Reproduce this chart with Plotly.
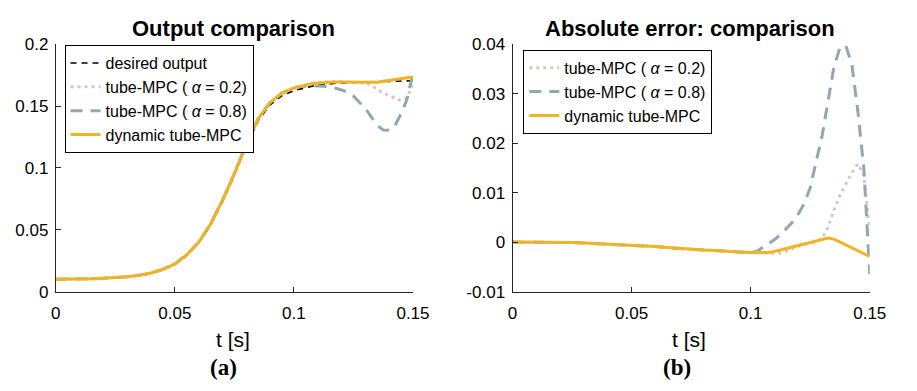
import plotly.graph_objects as go

# ---- data ----
t = [0, 0.005, 0.01, 0.015, 0.02, 0.025, 0.03, 0.035, 0.04, 0.045,
     0.05, 0.055, 0.06, 0.065, 0.07, 0.075, 0.08, 0.085, 0.09, 0.095,
     0.10, 0.1025, 0.105, 0.1075, 0.11, 0.1125, 0.115, 0.1175, 0.12, 0.1225,
     0.125, 0.1275, 0.13, 0.1325, 0.135, 0.1375, 0.14, 0.1425, 0.145, 0.1475, 0.15]

desired_output = [0.0100, 0.0100, 0.0101, 0.0103, 0.0106, 0.0110, 0.0117, 0.0128, 0.0146, 0.0175,
                  0.0218, 0.0290, 0.0390, 0.0535, 0.0725, 0.0940, 0.1175, 0.1380, 0.1510, 0.1585,
                  0.1625, 0.1638, 0.1650, 0.1660, 0.1668, 0.1675, 0.1680, 0.1684, 0.1687, 0.1689,
                  0.1691, 0.1693, 0.1695, 0.1697, 0.1698, 0.1700, 0.1701, 0.1702, 0.1703, 0.1704, 0.1705]

dyn_output = [0.0100, 0.0100, 0.0101, 0.0103, 0.0107, 0.0111, 0.0119, 0.0131, 0.0150, 0.0180,
              0.0224, 0.0298, 0.0399, 0.0546, 0.0738, 0.0954, 0.1191, 0.1397, 0.1529, 0.1605,
              0.1646, 0.1659, 0.1671, 0.1681, 0.1687, 0.1691, 0.1693, 0.1694, 0.1694, 0.1693,
              0.1693, 0.1692, 0.1691, 0.1689, 0.1692, 0.1700, 0.1707, 0.1713, 0.1720, 0.1727, 0.1734]

tube02_output = [0.0100, 0.0100, 0.0101, 0.0103, 0.0107, 0.0111, 0.0119, 0.0131, 0.0150, 0.0180,
                 0.0224, 0.0298, 0.0399, 0.0546, 0.0738, 0.0954, 0.1191, 0.1397, 0.1529, 0.1605,
                 0.1646, 0.1659, 0.1672, 0.1683, 0.1691, 0.1697, 0.1698, 0.1697, 0.1696, 0.1694,
                 0.1693, 0.1692, 0.1687, 0.1667, 0.1633, 0.1605, 0.1583, 0.1562, 0.1545, 0.1569, 0.1680]

tube08_output = [0.0100, 0.0100, 0.0101, 0.0103, 0.0107, 0.0111, 0.0119, 0.0131, 0.0150, 0.0180,
                 0.0224, 0.0298, 0.0399, 0.0546, 0.0738, 0.0954, 0.1191, 0.1397, 0.1529, 0.1605,
                 0.1646, 0.1657, 0.1661, 0.1663, 0.1663, 0.1660, 0.1653, 0.1644, 0.1630, 0.1611,
                 0.1581, 0.1533, 0.1480, 0.1412, 0.1343, 0.1307, 0.1304, 0.1344, 0.1438, 0.1554, 0.1770]

dyn_error = [0, 0, 0, 0, -0.0001, -0.0001, -0.0002, -0.0003, -0.0004, -0.0005,
             -0.0006, -0.0008, -0.0009, -0.0011, -0.0013, -0.0014, -0.0016, -0.0017, -0.0019, -0.0020,
             -0.0021, -0.0021, -0.0021, -0.0021, -0.0019, -0.0016, -0.0013, -0.0010, -0.0007, -0.0004,
             -0.0002, 0.0001, 0.0004, 0.0008, 0.0006, 0.0000, -0.0006, -0.0011, -0.0017, -0.0023, -0.0029]

tube02_error = [0, 0, 0, 0, -0.0001, -0.0001, -0.0002, -0.0003, -0.0004, -0.0005,
                -0.0006, -0.0008, -0.0009, -0.0011, -0.0013, -0.0014, -0.0016, -0.0017, -0.0019, -0.0020,
                -0.0021, -0.0021, -0.0022, -0.0023, -0.0023, -0.0022, -0.0018, -0.0013, -0.0009, -0.0005,
                -0.0002, 0.0001, 0.0008, 0.0030, 0.0065, 0.0095, 0.0118, 0.0140, 0.0158, 0.0135, 0.0025]

tube08_error = [0, 0, 0, 0, -0.0001, -0.0001, -0.0002, -0.0003, -0.0004, -0.0005,
                -0.0006, -0.0008, -0.0009, -0.0011, -0.0013, -0.0014, -0.0016, -0.0017, -0.0019, -0.0020,
                -0.0021, -0.0019, -0.0011, -0.0003, 0.0005, 0.0015, 0.0027, 0.0040, 0.0057, 0.0078,
                0.0110, 0.0160, 0.0215, 0.0285, 0.0355, 0.0393, 0.0397, 0.0358, 0.0265, 0.0150, -0.0065]

x_ticks = [0, 0.05, 0.1, 0.15]
x_ticktext = ["0", "0.05", "0.1", "0.15"]
y1_ticks = [0, 0.05, 0.1, 0.15, 0.2]
y1_ticktext = ["0", "0.05", "0.1", "0.15", "0.2"]
y2_ticks = [-0.01, 0, 0.01, 0.02, 0.03, 0.04]
y2_ticktext = ["-0.01", "0", "0.01", "0.02", "0.03", "0.04"]

name_desired = "desired output"
name_t02 = "tube-MPC ( <i>α</i> = 0.2)"
name_t08 = "tube-MPC ( <i>α</i> = 0.8)"
name_dyn = "dynamic tube-MPC"

# ---- styles ----
C_BLACK = "#000000"
C_DOT = "#d9c5c3"
C_DASH = "#8fa9b1"
C_ORANGE = "#f0b323"
FONT = "Liberation Sans, Arial, Helvetica, sans-serif"
SERIF = "Liberation Serif, Times New Roman, serif"
W, H = 917, 391

def px_x(p):
    return p / W

def px_y(p):
    return 1 - p / H

fig = go.Figure()

# left panel
fig.add_trace(go.Scatter(x=t, y=desired_output, name=name_desired, mode="lines",
                         line=dict(color=C_BLACK, width=1.6, dash="6px,5px"),
                         xaxis="x", yaxis="y", legend="legend"))
fig.add_trace(go.Scatter(x=t, y=tube02_output, name=name_t02, mode="lines",
                         line=dict(color=C_DOT, width=3, dash="3px,4px"),
                         xaxis="x", yaxis="y", legend="legend"))
fig.add_trace(go.Scatter(x=t, y=tube08_output, name=name_t08, mode="lines",
                         line=dict(color=C_DASH, width=3, dash="12px,8px"),
                         xaxis="x", yaxis="y", legend="legend"))
fig.add_trace(go.Scatter(x=t, y=dyn_output, name=name_dyn, mode="lines",
                         line=dict(color=C_ORANGE, width=3),
                         xaxis="x", yaxis="y", legend="legend"))

# right panel
fig.add_trace(go.Scatter(x=t, y=tube02_error, name=name_t02, mode="lines",
                         line=dict(color=C_DOT, width=3, dash="3px,4px"),
                         xaxis="x2", yaxis="y2", legend="legend2"))
fig.add_trace(go.Scatter(x=t, y=tube08_error, name=name_t08, mode="lines",
                         line=dict(color=C_DASH, width=3, dash="12px,8px"),
                         xaxis="x2", yaxis="y2", legend="legend2"))
fig.add_trace(go.Scatter(x=t, y=dyn_error, name=name_dyn, mode="lines",
                         line=dict(color=C_ORANGE, width=3),
                         xaxis="x2", yaxis="y2", legend="legend2"))

axis_common = dict(showgrid=False, zeroline=False, showline=True, linecolor="#262626",
                   linewidth=1, ticks="inside", ticklen=5, tickcolor="#262626",
                   tickfont=dict(family=FONT, size=17, color="#000000"), mirror=False)

ydom = [px_y(297), px_y(37)]
fig.update_layout(
    width=W, height=H,
    margin=dict(l=0, r=0, t=0, b=0),
    paper_bgcolor="white", plot_bgcolor="white",
    font=dict(family=FONT, size=16, color="#000000"),
    xaxis=dict(domain=[px_x(52), px_x(418)], range=[0, 0.15], tickvals=x_ticks,
               ticktext=x_ticktext, anchor="y", ticklabelstandoff=6, **axis_common),
    yaxis=dict(domain=ydom, range=[0, 0.2], tickvals=y1_ticks, ticktext=y1_ticktext,
               anchor="x", ticklabelstandoff=3, **axis_common),
    xaxis2=dict(domain=[px_x(520), px_x(886)], range=[0, 0.15], tickvals=x_ticks,
                ticktext=x_ticktext, anchor="y2", ticklabelstandoff=6, **axis_common),
    yaxis2=dict(domain=ydom, range=[-0.01, 0.04], tickvals=y2_ticks, ticktext=y2_ticktext,
                anchor="x2", ticklabelstandoff=3, **axis_common),
    legend=dict(x=px_x(61), y=px_y(38), xanchor="left", yanchor="top",
                bgcolor="white", bordercolor="#000000", borderwidth=1,
                font=dict(family=FONT, size=16), tracegroupgap=0, itemwidth=30),
    legend2=dict(x=px_x(531), y=px_y(43), xanchor="left", yanchor="top",
                 bgcolor="white", bordercolor="#000000", borderwidth=1,
                 font=dict(family=FONT, size=16), tracegroupgap=0, itemwidth=30),
    showlegend=True,
)

annos = [
    dict(text="<b>Output comparison</b>", x=px_x(234), y=px_y(20), size=22, family=FONT),
    dict(text="<b>Absolute error: comparison</b>", x=px_x(702), y=px_y(20), size=22, family=FONT),
    dict(text="t [s]", x=px_x(234), y=px_y(347), size=21, family=FONT),
    dict(text="t [s]", x=px_x(701), y=px_y(347), size=21, family=FONT),
    dict(text="<b>(a)</b>", x=px_x(224), y=px_y(377), size=23, family=SERIF),
    dict(text="<b>(b)</b>", x=px_x(689), y=px_y(377), size=23, family=SERIF),
]
for a in annos:
    fig.add_annotation(text=a["text"], x=a["x"], y=a["y"], xref="paper", yref="paper",
                       xanchor="center", yanchor="middle", showarrow=False,
                       font=dict(family=a["family"], size=a["size"], color="#000000"))

fig.write_html("out.html")
